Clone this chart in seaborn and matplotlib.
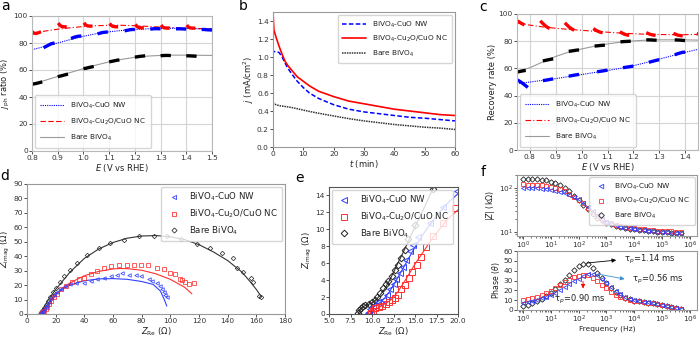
import numpy as np
import pandas as pd
import matplotlib
matplotlib.use("Agg")
import matplotlib.pyplot as plt
from matplotlib.lines import Line2D
import seaborn as sns

# ---------------- DATA ----------------
LAB_NW = "BiVO$_4$-CuO NW"
LAB_NC = "BiVO$_4$-Cu$_2$O/CuO NC"
LAB_BARE = "Bare BiVO$_4$"

# panel a: jph ratio
a_fit_E = [0.80, 0.85, 0.90, 0.95, 1.00, 1.05, 1.10, 1.15, 1.20, 1.25, 1.30, 1.35, 1.40, 1.45, 1.50]
a_fit_nw = [75.0, 77.5, 80.0, 82.6, 85.0, 86.9, 88.3, 89.3, 90.0, 90.5, 90.8, 90.9, 90.8, 90.5, 90.0]
a_fit_nc = [87.3, 88.8, 90.2, 91.3, 92.2, 92.8, 93.1, 93.1, 92.8, 92.3, 91.8, 91.4, 91.0, 90.7, 90.5]
a_fit_bare = [49.5, 52.3, 55.2, 58.2, 61.0, 63.7, 66.0, 67.9, 69.4, 70.3, 70.8, 71.0, 71.0, 70.9, 70.8]

a_seg_nc_E = [[0.800, 0.807, 0.815, 0.825, 0.835], [0.902, 0.908, 0.915, 0.925, 0.935],
              [1.002, 1.008, 1.015, 1.025, 1.035], [1.102, 1.108, 1.115, 1.125, 1.135],
              [1.202, 1.208, 1.215, 1.225, 1.235], [1.302, 1.308, 1.315, 1.325, 1.335],
              [1.402, 1.408, 1.415, 1.425, 1.435]]
a_seg_nc_v = [[88.5, 87.3, 87.0, 87.6, 88.3], [94.8, 93.2, 92.3, 92.0, 92.0],
              [95.0, 93.5, 92.7, 92.5, 92.5], [94.5, 93.0, 92.3, 92.0, 92.0],
              [93.8, 92.3, 91.5, 91.2, 91.2], [93.3, 91.8, 91.2, 91.0, 91.0],
              [93.3, 91.8, 91.2, 91.0, 91.0]]
a_seg_nw_E = [[0.845, 0.855, 0.865, 0.875, 0.888], [0.952, 0.960, 0.970, 0.980, 0.992],
              [1.055, 1.065, 1.075, 1.085, 1.095], [1.160, 1.170, 1.180, 1.190, 1.200],
              [1.260, 1.270, 1.280, 1.290, 1.300], [1.360, 1.370, 1.380, 1.390, 1.400],
              [1.460, 1.470, 1.480, 1.490, 1.500]]
a_seg_nw_v = [[76.5, 77.5, 78.5, 79.5, 80.0], [83.3, 84.0, 84.6, 85.0, 85.2],
              [86.8, 87.3, 87.8, 88.0, 88.2], [89.0, 89.4, 89.8, 90.0, 90.0],
              [90.3, 90.5, 90.6, 90.6, 90.5], [90.5, 90.5, 90.5, 90.4, 90.3],
              [90.0, 90.0, 89.8, 89.7, 89.6]]
a_seg_bare_E = [[0.80, 0.81, 0.82, 0.83, 0.84], [0.90, 0.91, 0.92, 0.93, 0.94],
                [1.00, 1.01, 1.02, 1.03, 1.04], [1.10, 1.11, 1.12, 1.13, 1.14],
                [1.20, 1.21, 1.22, 1.23, 1.24], [1.30, 1.31, 1.32, 1.33, 1.34],
                [1.40, 1.41, 1.42, 1.43, 1.44]]
a_seg_bare_v = [[49.5, 49.8, 50.2, 50.7, 51.2], [55.0, 55.5, 56.0, 56.5, 57.0],
                [61.0, 61.3, 61.8, 62.2, 62.6], [66.0, 66.4, 66.8, 67.2, 67.5],
                [69.5, 69.8, 70.1, 70.3, 70.5], [70.6, 70.7, 70.8, 70.8, 70.7],
                [70.5, 70.5, 70.4, 70.3, 70.2]]

# panel b: j vs t
b_t = [0, 0, 0.3, 1, 2, 3, 4, 5, 6, 8, 10, 12, 15, 20, 25, 30, 35, 40, 45, 50, 55, 60]
b_nw = [0.80, 1.05, 1.06, 1.06, 1.05, 1.00, 0.93, 0.87, 0.82, 0.73, 0.66, 0.60, 0.54, 0.47, 0.42, 0.39, 0.37, 0.35, 0.33, 0.32, 0.305, 0.29]
b_nc = [0.88, 1.50, 1.30, 1.22, 1.12, 1.03, 0.95, 0.90, 0.86, 0.78, 0.73, 0.68, 0.62, 0.56, 0.51, 0.48, 0.45, 0.42, 0.40, 0.38, 0.36, 0.35]
b_bare = [0.48, 0.50, 0.48, 0.47, 0.46, 0.455, 0.45, 0.445, 0.44, 0.425, 0.41, 0.395, 0.375, 0.345, 0.315, 0.29, 0.27, 0.25, 0.235, 0.22, 0.21, 0.195]

# panel c: recovery rate
c_fit_E = [0.75, 0.80, 0.85, 0.90, 0.95, 1.00, 1.05, 1.10, 1.15, 1.20, 1.25, 1.30, 1.35, 1.40, 1.45]
c_fit_nw = [48.7, 50.0, 51.2, 52.5, 54.0, 55.5, 57.0, 58.5, 60.0, 62.0, 64.3, 66.8, 69.3, 71.8, 74.0]
c_fit_nc = [93.5, 91.8, 90.5, 89.5, 88.7, 88.0, 87.3, 86.6, 86.0, 85.5, 85.1, 84.9, 84.8, 84.8, 85.0]
c_fit_bare = [57.8, 60.5, 64.8, 68.8, 72.0, 74.3, 76.3, 78.0, 79.3, 80.2, 80.8, 81.0, 81.0, 81.0, 80.8]

c_seg_nc_E = [[0.752, 0.758, 0.765, 0.772, 0.779], [0.840, 0.849, 0.858, 0.867, 0.876],
              [0.935, 0.944, 0.953, 0.962, 0.971], [1.045, 1.054, 1.063, 1.072, 1.081],
              [1.148, 1.157, 1.166, 1.175, 1.184], [1.250, 1.259, 1.268, 1.277, 1.286],
              [1.355, 1.364, 1.373, 1.382, 1.391], [1.445, 1.450, 1.455]]
c_seg_nc_v = [[95.0, 94.2, 93.3, 92.6, 92.0], [95.0, 93.2, 91.6, 90.3, 89.3],
              [93.5, 91.8, 90.2, 89.0, 88.0], [89.3, 88.2, 87.3, 86.6, 86.2],
              [87.0, 85.9, 85.1, 84.6, 84.3], [86.3, 85.5, 84.9, 84.5, 84.3],
              [85.8, 85.0, 84.4, 84.1, 83.9], [85.6, 85.3, 85.1]]
c_seg_nw_E = [[0.752, 0.762, 0.772, 0.782, 0.792], [0.85, 0.86, 0.87, 0.88, 0.89],
              [0.95, 0.96, 0.97, 0.98, 0.99], [1.06, 1.07, 1.08, 1.09, 1.10],
              [1.16, 1.17, 1.18, 1.19, 1.20], [1.26, 1.27, 1.28, 1.29, 1.30],
              [1.36, 1.37, 1.38, 1.39, 1.40]]
c_seg_nw_v = [[51.5, 50.3, 49.0, 47.5, 46.0], [51.0, 51.3, 51.6, 52.0, 52.3],
              [54.3, 54.6, 55.0, 55.3, 55.6], [57.5, 57.8, 58.1, 58.4, 58.7],
              [60.5, 60.8, 61.1, 61.4, 61.7], [64.5, 65.0, 65.5, 66.0, 66.4],
              [70.0, 70.7, 71.3, 71.8, 72.0]]
c_seg_bare_E = [[0.752, 0.760, 0.768, 0.776, 0.784], [0.85, 0.86, 0.87, 0.88, 0.89],
                [0.95, 0.96, 0.97, 0.98, 0.99], [1.05, 1.06, 1.07, 1.08, 1.09],
                [1.15, 1.16, 1.17, 1.18, 1.19], [1.25, 1.26, 1.27, 1.28, 1.29],
                [1.36, 1.37, 1.38, 1.39, 1.40]]
c_seg_bare_v = [[57.3, 57.7, 58.0, 58.3, 58.5], [65.5, 65.9, 66.3, 66.7, 67.0],
                [72.5, 72.8, 73.1, 73.4, 73.6], [76.4, 76.6, 76.8, 77.0, 77.1],
                [79.5, 79.7, 79.8, 79.9, 80.0], [81.0, 81.0, 80.9, 80.8, 80.7],
                [81.0, 80.9, 80.8, 80.6, 80.5]]

# panel d: Nyquist
d_bare_x = [9.0, 9.5, 10.0, 10.5, 11.0, 12.0, 13.0, 14.5, 16.0, 18.0, 20.0, 23.0, 26.0, 30.0, 35.0, 42.0, 50.0, 58.0,
            68.0, 78.0, 88.5, 97.8, 107.7, 118.6, 127.9, 136.0, 144.0, 146.4, 151.0, 156.5, 158.0, 162.0, 163.5]
d_bare_y = [0.2, 0.6, 1.2, 2.0, 3.0, 4.5, 6.5, 9.0, 12.0, 15.0, 18.0, 22.5, 26.0, 30.5, 35.0, 41.0, 46.0, 49.5,
            51.5, 53.8, 53.8, 53.8, 52.0, 48.8, 45.8, 42.4, 38.9, 32.0, 28.8, 25.0, 22.0, 12.5, 11.5]
d_bare_fx = [8.5, 10, 12, 15, 20, 25, 30, 40, 50, 60, 70, 80, 90, 100, 110, 120, 130, 140, 150, 156, 160, 163.5]
d_bare_fy = [0, 1.5, 5, 10, 17, 23, 29, 38.5, 45, 49.5, 52.5, 54, 54.3, 53.5, 51.5, 48, 43, 37, 29, 22, 17, 12]

d_nc_x = [10, 10.5, 11, 11.5, 12, 13, 14, 15.5, 17, 19, 21, 24, 27.5, 31.5, 36, 39.8, 44.5, 49, 53.7, 58.4, 64, 70,
          74.6, 79.7, 84.5, 90.8, 95.4, 99.6, 103.5, 106.6, 108.2, 110.5, 112.8, 116.3]
d_nc_y = [0.2, 0.5, 1.0, 1.6, 2.3, 3.5, 5, 7, 9, 11.5, 14, 17, 19.5, 22.5, 24, 25.2, 28, 29.7, 31.6, 33.2, 33.9, 33.9,
          33.9, 33.9, 33.6, 31.6, 30.9, 28.2, 27.5, 24.5, 23.4, 22.2, 20.6, 21.7]
d_nc_fx = [10, 12, 15, 20, 25, 30, 40, 50, 60, 65, 70, 80, 90, 100, 110, 115]
d_nc_fy = [0, 2, 6, 13, 18, 21.5, 26.5, 29.5, 31.2, 31.5, 31.4, 30.3, 27.8, 24, 18.5, 14]

d_nw_x = [9.5, 10, 10.5, 11, 12, 13, 14, 15.5, 17, 19, 21, 23.5, 26.5, 30, 34.5, 39.8, 44.5, 49, 53.7, 58.4, 62.5,
          66.5, 71, 75.7, 79.7, 85, 87.3, 90.8, 92.6, 94.3, 95.4, 96.6, 97.5]
d_nw_y = [0.2, 0.6, 1.2, 2, 3.5, 5, 6.5, 8.5, 11, 13, 15.5, 17.5, 19.5, 20.5, 21.5, 21.8, 22.9, 24, 24.7, 26.3, 27.2,
          28.2, 26.8, 26.8, 26.3, 24.5, 22.9, 21.8, 19.5, 17.2, 14.9, 13, 12]
d_nw_fx = [9.5, 12, 15, 20, 25, 30, 40, 50, 60, 70, 80, 88, 93, 96, 97.5]
d_nw_fy = [0, 3, 7.5, 13.5, 17.5, 20, 23, 24.3, 24.5, 24, 22.5, 20.5, 16, 9.5, 5.5]

# panel e: Nyquist zoom
e_bare_x = [8.4, 8.5, 8.7, 8.9, 9.2, 9.6, 10.0, 10.3, 10.6, 10.9, 11.3, 11.6, 11.9, 12.3, 12.7, 13.0, 13.4, 13.8, 14.15, 15.0, 17.1]
e_bare_y = [0.15, 0.45, 0.75, 0.95, 1.05, 1.15, 1.4, 1.65, 1.95, 2.5, 3.1, 3.5, 3.9, 4.5, 5.2, 5.8, 6.6, 7.6, 8.8, 10.5, 14.8]
e_bare_fx = [8.4, 8.6, 9.0, 9.5, 10.0, 10.5, 11.0, 11.5, 12.0, 12.5, 13.0, 13.5, 14.0, 15.0, 16.0, 17.3]
e_bare_fy = [0, 0.5, 0.9, 1.1, 1.3, 1.7, 2.3, 3.0, 3.9, 4.9, 6.0, 7.0, 8.1, 10.3, 12.4, 15.3]

e_nw_x = [9.5, 9.6, 9.8, 10.15, 10.7, 11.3, 11.7, 12.1, 12.5, 12.8, 13.2, 13.6, 13.95, 14.4, 14.8, 15.4, 16.7, 18.3, 19.85]
e_nw_y = [0.1, 0.27, 0.58, 0.97, 1.4, 1.7, 2.3, 2.9, 3.5, 4.1, 4.8, 5.6, 6.4, 7.4, 8.1, 9.1, 10.8, 12.6, 14.5]
e_nw_fx = [9.4, 9.8, 10.3, 11, 11.5, 12, 12.5, 13, 13.5, 14, 15, 16, 17, 18, 19, 20]
e_nw_fy = [0, 0.5, 0.9, 1.4, 1.9, 2.6, 3.4, 4.3, 5.2, 6.1, 7.9, 9.5, 10.9, 12.2, 13.3, 14.2]

e_nc_x = [9.9, 10.1, 10.4, 10.8, 11.2, 11.6, 12.0, 12.3, 12.7, 13.0, 13.4, 13.8, 14.3, 14.7, 15.2, 15.7, 16.3, 17.1, 18.2, 19.7]
e_nc_y = [0.15, 0.4, 0.65, 0.85, 1.0, 1.2, 1.4, 1.6, 1.9, 2.3, 2.9, 3.4, 4.2, 5.0, 5.8, 6.7, 7.9, 9.2, 10.7, 12.5]
e_nc_fx = [9.8, 10.2, 11, 12, 12.5, 13, 13.5, 14, 15, 16, 17, 18, 19, 20]
e_nc_fy = [0, 0.4, 0.9, 1.5, 2.0, 2.6, 3.4, 4.2, 5.9, 7.4, 8.9, 10.2, 11.4, 12.3]

# panel f: Bode
f_freq = [1, 1.468, 2.154, 3.162, 4.642, 6.813, 10, 14.68, 21.54, 31.62, 46.42, 68.13, 100, 146.8, 215.4, 316.2,
          464.2, 681.3, 1000, 1468, 2154, 3162, 4642, 6813, 1e4, 1.468e4, 2.154e4, 3.162e4, 4.642e4, 6.813e4,
          1e5, 1.468e5, 2.154e5, 3.162e5, 4.642e5]
f_z_bare = [165, 165, 163, 160, 156, 150, 142, 132, 118, 102, 85, 68, 54, 42, 33, 26, 21.5, 18.5, 16.5, 15, 14, 13.2,
            12.6, 12.1, 11.7, 11.3, 11.0, 10.7, 10.5, 10.3, 10.1, 9.9, 9.8, 9.7, 9.6]
f_z_nc = [122, 121, 120, 118, 116, 113, 108, 102, 94, 85, 75, 64, 55, 45, 36, 28.5, 23, 19.5, 17.5, 16, 14.8, 13.9,
          13.2, 12.7, 12.3, 11.9, 11.6, 11.3, 11.1, 10.9, 10.7, 10.5, 10.4, 10.3, 10.2]
f_z_nw = [102, 101, 100, 99, 97, 95, 92, 88, 83, 77, 70, 63, 56, 47, 38, 30, 24, 20, 17.2, 15.5, 14.3, 13.4, 12.7,
          12.2, 11.8, 11.4, 11.1, 10.8, 10.5, 10.3, 10.1, 9.9, 9.7, 9.6, 9.5]
f_ph_bare = [4, 5.5, 7, 9, 11, 14, 17, 21, 26, 31, 36, 41, 45, 47, 46.5, 43, 38, 33, 27, 22, 18, 15, 12.5, 11, 9.5,
             8.8, 8.2, 7.5, 7, 6.2, 5, 4, 3, 2, 1.2]
f_ph_nc = [10, 11, 12, 13.5, 15, 17, 19.5, 22, 25, 28, 31, 33.5, 35, 36, 35.5, 33, 29.5, 25.5, 22, 18.5, 15.5, 13.5,
           12, 10.5, 9.5, 8.8, 8, 7.5, 6.8, 6, 5, 4, 3, 2, 1.5]
f_ph_nw = [7, 8, 9, 10.5, 12, 13.5, 15.5, 17.5, 20, 23, 26, 29, 32, 34.5, 36.5, 37, 35.5, 32, 27.5, 23, 19, 16, 13.5,
           11.5, 10, 9, 8.3, 7.7, 7, 6.2, 5.2, 4.2, 3.2, 2.2, 1.5]

# ---------------- STYLE ----------------
sns.set_theme(style="white")
plt.rcParams.update({
    "font.family": ["DejaVu Sans"],
    "mathtext.fontset": "dejavusans",
    "font.size": 6,
    "axes.linewidth": 0.8,
    "xtick.bottom": True, "ytick.left": True,
    "xtick.major.size": 2.0, "ytick.major.size": 2.0,
    "xtick.minor.size": 1.2, "ytick.minor.size": 1.2,
    "xtick.major.width": 0.6, "ytick.major.width": 0.6,
    "xtick.minor.width": 0.5, "ytick.minor.width": 0.5,
    "xtick.major.pad": 1.0, "ytick.major.pad": 1.0,
    "xtick.labelsize": 5.3, "ytick.labelsize": 5.3,
    "axes.labelsize": 6.0, "axes.labelpad": 0.8,
    "xtick.color": "#333333", "ytick.color": "#333333",
    "axes.labelcolor": "#222222", "text.color": "#222222",
})

fig = plt.figure(figsize=(7, 3.38), dpi=100)


def add_ax(l, r, t, b):
    return fig.add_axes([l / 700, 1 - b / 338, (r - l) / 700, (b - t) / 338])


def seg_frame(Es, Vs):
    rows = []
    for i, (e, v) in enumerate(zip(Es, Vs)):
        for xx, yy in zip(e, v):
            rows.append((i, xx, yy))
    return pd.DataFrame(rows, columns=["seg", "x", "y"])


def style_spines(ax, color):
    for s in ax.spines.values():
        s.set_color(color)
        s.set_linewidth(0.8)


def line(ax, x, y, **kw):
    sns.lineplot(x=x, y=y, ax=ax, sort=False, estimator=None, **kw)


def marks(ax, x, y, marker, color, ms, mew=0.7):
    sns.lineplot(x=x, y=y, ax=ax, sort=False, estimator=None, marker=marker, linestyle="none",
                 mfc="none", mec=color, ms=ms, mew=mew, color=color)


def segments(ax, Es, Vs, color):
    df = seg_frame(Es, Vs)
    sns.lineplot(data=df, x="x", y="y", units="seg", estimator=None, sort=False, ax=ax,
                 color=color, lw=2.4, solid_capstyle="butt")


GRAYLINE = "#9a9a9a"

# ---------------- PANEL a ----------------
ax = add_ax(32, 212, 16, 151)
line(ax, a_fit_E, a_fit_bare, color=GRAYLINE, lw=0.8)
line(ax, a_fit_E, a_fit_nc, color="red", lw=0.8, linestyle=(0, (5, 2, 1, 2)))
line(ax, a_fit_E, a_fit_nw, color="blue", lw=0.8, linestyle=(0, (1, 1)))
segments(ax, a_seg_bare_E, a_seg_bare_v, "black")
segments(ax, a_seg_nw_E, a_seg_nw_v, "blue")
segments(ax, a_seg_nc_E, a_seg_nc_v, "red")
ax.set_xlim(0.8, 1.5)
ax.set_ylim(0, 100)
ax.set_xticks([0.8, 0.9, 1.0, 1.1, 1.2, 1.3, 1.4, 1.5])
ax.set_yticks([0, 20, 40, 60, 80, 100])
ax.grid(True, color="#d4d4d4", lw=0.8)
style_spines(ax, "#b8b8b8")
ax.set_xlabel("$E$ (V vs RHE)")
ax.set_ylabel(r"$j_{\rm ph}$ ratio (%)")
h = [Line2D([], [], color="blue", lw=0.8, ls=(0, (1, 1))),
     Line2D([], [], color="red", lw=0.8, ls=(0, (5, 2))),
     Line2D([], [], color=GRAYLINE, lw=0.8)]
ax.legend(h, [LAB_NW, LAB_NC, LAB_BARE], loc="lower left", fontsize=5.3, handlelength=3.2,
          frameon=True, borderaxespad=0.4, labelspacing=0.8, borderpad=0.7)

# ---------------- PANEL b ----------------
ax = add_ax(273, 455, 12, 147)
line(ax, b_t, b_bare, color="#333333", lw=1.1, linestyle=(0, (1, 0.6)))
line(ax, b_t, b_nw, color="blue", lw=1.1, linestyle=(0, (3, 1.5)))
line(ax, b_t, b_nc, color="red", lw=1.2)
ax.set_xlim(0, 60)
ax.set_ylim(0, 1.5)
ax.set_xticks([0, 10, 20, 30, 40, 50, 60])
ax.set_yticks([0.0, 0.2, 0.4, 0.6, 0.8, 1.0, 1.2, 1.4])
style_spines(ax, "#999999")
ax.set_xlabel("$t$ (min)")
ax.set_ylabel("$j$ (mA/cm$^2$)")
h = [Line2D([], [], color="blue", lw=1.1, ls=(0, (3, 1.5))),
     Line2D([], [], color="red", lw=1.2),
     Line2D([], [], color="#333333", lw=1.1, ls=(0, (1, 0.6)))]
ax.legend(h, [LAB_NW, LAB_NC, LAB_BARE], loc="upper right", fontsize=5.3, handlelength=3.2,
          frameon=True, borderaxespad=0.4, labelspacing=0.6, borderpad=0.6)

# ---------------- PANEL c ----------------
ax = add_ax(517, 698, 14, 150)
line(ax, c_fit_E, c_fit_bare, color=GRAYLINE, lw=0.8)
line(ax, c_fit_E, c_fit_nc, color="red", lw=0.8, linestyle=(0, (5, 2, 1, 2)))
line(ax, c_fit_E, c_fit_nw, color="blue", lw=0.8, linestyle=(0, (1, 1)))
segments(ax, c_seg_bare_E, c_seg_bare_v, "black")
segments(ax, c_seg_nw_E, c_seg_nw_v, "blue")
segments(ax, c_seg_nc_E, c_seg_nc_v, "red")
ax.set_xlim(0.75, 1.45)
ax.set_ylim(0, 100)
ax.set_xticks([0.8, 0.9, 1.0, 1.1, 1.2, 1.3, 1.4])
ax.set_yticks([0, 20, 40, 60, 80, 100])
ax.grid(True, color="#d4d4d4", lw=0.8)
style_spines(ax, "#b8b8b8")
ax.set_xlabel("$E$ (V vs RHE)")
ax.set_ylabel("Recovery rate (%)")
h = [Line2D([], [], color="blue", lw=0.8, ls=(0, (1, 1))),
     Line2D([], [], color="red", lw=0.8, ls=(0, (5, 2, 1, 2))),
     Line2D([], [], color=GRAYLINE, lw=0.8)]
ax.legend(h, [LAB_NW, LAB_NC, LAB_BARE], loc="lower left", fontsize=5.3, handlelength=3.2,
          frameon=True, borderaxespad=0.4, labelspacing=0.8, borderpad=0.7)

# ---------------- PANEL d ----------------
ax = add_ax(27, 285, 184, 314)
line(ax, d_bare_fx, d_bare_fy, color="#333333", lw=0.8)
line(ax, d_nc_fx, d_nc_fy, color="#ff3030", lw=0.8)
line(ax, d_nw_fx, d_nw_fy, color="#3040ff", lw=0.8)
marks(ax, d_bare_x, d_bare_y, "D", "#333333", 2.3, 0.55)
marks(ax, d_nc_x, d_nc_y, "s", "#ff3030", 2.6, 0.55)
marks(ax, d_nw_x, d_nw_y, "<", "#3040ff", 2.5, 0.55)
ax.set_xlim(0, 180)
ax.set_ylim(0, 90)
ax.set_xticks(list(range(0, 181, 20)))
ax.set_yticks(list(range(0, 91, 10)))
style_spines(ax, "#999999")
ax.set_xlabel(r"$Z_{\rm Re}$ ($\Omega$)")
ax.set_ylabel(r"$Z_{\rm imag}$ ($\Omega$)")
h = [Line2D([], [], ls="none", marker="<", mfc="none", mec="#3040ff", ms=3.0, mew=0.6),
     Line2D([], [], ls="none", marker="s", mfc="none", mec="#ff3030", ms=3.0, mew=0.6),
     Line2D([], [], ls="none", marker="D", mfc="none", mec="#333333", ms=2.6, mew=0.6)]
ax.legend(h, [LAB_NW, LAB_NC, LAB_BARE], loc="upper right", fontsize=6.2, handlelength=2.0,
          frameon=True, borderaxespad=0.3, labelspacing=0.5, borderpad=0.5)

# ---------------- PANEL e ----------------
ax = add_ax(329, 458, 187, 314)
line(ax, e_bare_fx, e_bare_fy, color="#333333", lw=0.8)
line(ax, e_nc_fx, e_nc_fy, color="#ff3030", lw=0.8)
line(ax, e_nw_fx, e_nw_fy, color="#3040ff", lw=0.8)
marks(ax, e_bare_x, e_bare_y, "D", "#222222", 3.4, 0.7)
marks(ax, e_nw_x, e_nw_y, "<", "#3040ff", 3.8, 0.7)
marks(ax, e_nc_x, e_nc_y, "s", "#ff3030", 4.0, 0.7)
ax.set_xlim(5, 20)
ax.set_ylim(0, 15)
ax.set_xticks([5.0, 7.5, 10.0, 12.5, 15.0, 17.5, 20.0])
ax.set_xticklabels(["5.0", "7.5", "10.0", "12.5", "15.0", "17.5", "20.0"])
ax.set_yticks(list(range(0, 15, 2)))
style_spines(ax, "#555555")
ax.set_xlabel(r"$Z_{\rm Re}$ ($\Omega$)")
ax.set_ylabel(r"$Z_{\rm imag}$ ($\Omega$)")
h = [Line2D([], [], ls="none", marker="<", mfc="none", mec="#3040ff", ms=3.8, mew=0.7),
     Line2D([], [], ls="none", marker="s", mfc="none", mec="#ff3030", ms=4.0, mew=0.7),
     Line2D([], [], ls="none", marker="D", mfc="none", mec="#222222", ms=3.4, mew=0.7)]
ax.legend(h, [LAB_NW, LAB_NC, LAB_BARE], loc="upper left", fontsize=6.2, handlelength=2.0,
          frameon=True, borderaxespad=0.3, labelspacing=0.5, borderpad=0.5)

# ---------------- PANEL f ----------------
axt = add_ax(517, 697, 175, 236)
axt.set_xscale("log")
axt.set_yscale("log")
marks(axt, f_freq, f_z_bare, "D", "#222222", 2.8, 0.6)
marks(axt, f_freq, f_z_nc, "s", "#ff3030", 3.1, 0.6)
marks(axt, f_freq, f_z_nw, "<", "#3040ff", 3.0, 0.6)
axt.set_xlim(0.61, 1.8e6)
axt.set_ylim(8.2, 200)
style_spines(axt, "#999999")
axt.set_ylabel("|$Z$| (k$\\Omega$)", fontsize=5.6)
axt.set_xlabel("")
axt.set_xticks([1, 10, 100, 1e3, 1e4, 1e5, 1e6])
h = [Line2D([], [], ls="none", marker="<", mfc="none", mec="#3040ff", ms=3.2, mew=0.6),
     Line2D([], [], ls="none", marker="s", mfc="none", mec="#ff3030", ms=3.2, mew=0.6),
     Line2D([], [], ls="none", marker="D", mfc="none", mec="#222222", ms=2.9, mew=0.6)]
axt.legend(h, [LAB_NW, LAB_NC, LAB_BARE], loc="upper right", fontsize=5.3, handlelength=2.0,
           frameon=True, borderaxespad=0.3, labelspacing=0.6, borderpad=0.6)

axb = add_ax(517, 697, 251, 310)
axb.set_xscale("log")
marks(axb, f_freq, f_ph_bare, "D", "#222222", 2.8, 0.6)
marks(axb, f_freq, f_ph_nc, "s", "#ff3030", 3.1, 0.6)
marks(axb, f_freq, f_ph_nw, "<", "#3040ff", 3.0, 0.6)
axb.set_xlim(0.61, 1.8e6)
axb.set_ylim(0, 60)
axb.set_yticks([0, 10, 20, 30, 40, 50, 60])
axb.set_xticks([1, 10, 100, 1e3, 1e4, 1e5, 1e6])
style_spines(axb, "#999999")
axb.set_ylabel(r"Phase ($\theta$)", fontsize=5.6)
axb.set_xlabel("Frequency (Hz)", fontsize=5.4, labelpad=0.3)

axb.annotate("", xy=(10 ** 3.45, 51), xytext=(10 ** 2.2, 47.5),
             arrowprops=dict(arrowstyle="-|>", color="black", lw=0.6, mutation_scale=6))
axb.text(10 ** 3.62, 51, r"τ$_p$=1.14 ms", fontsize=6, va="center", ha="left")
axb.annotate("", xy=(10 ** 3.75, 31), xytext=(10 ** 2.6, 37),
             arrowprops=dict(arrowstyle="-|>", color="#3a8fd0", lw=0.6, mutation_scale=6))
axb.text(10 ** 3.92, 31, r"τ$_p$=0.56 ms", fontsize=6, va="center", ha="left")
axb.annotate("", xy=(10 ** 2.16, 19), xytext=(10 ** 2.16, 32),
             arrowprops=dict(arrowstyle="-|>", color="red", lw=0.6, mutation_scale=6))
axb.text(10 ** 2.05, 10.5, r"τ$_p$=0.90 ms", fontsize=6, va="center", ha="center")

# ---------------- panel letters ----------------
for lab, x, y in [("a", 5, 6), ("b", 243, 6), ("c", 483, 7), ("d", 5, 176), ("e", 300, 178), ("f", 483, 172)]:
    fig.text(x / 700, 1 - y / 338, lab, fontsize=10, ha="center", va="center", color="black")

fig.savefig("out.png", dpi=100)
